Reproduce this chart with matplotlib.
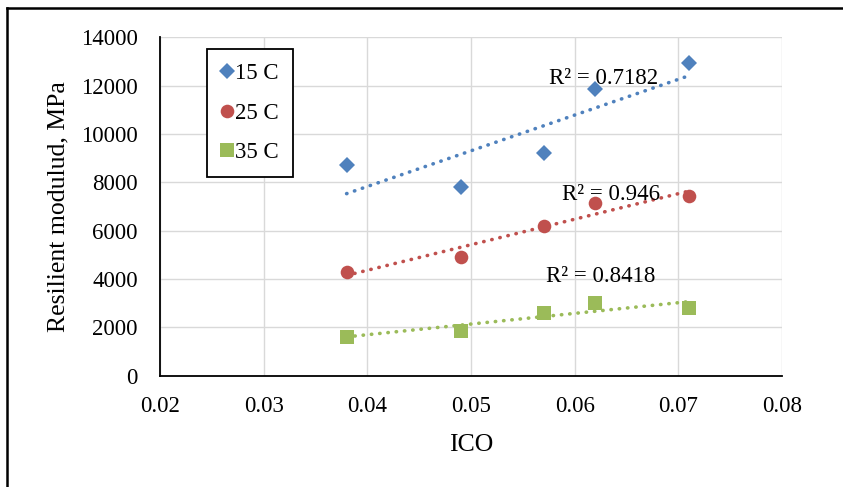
import numpy as np
import matplotlib
matplotlib.use("Agg")
import matplotlib.pyplot as plt
from matplotlib.lines import Line2D

plt.rcParams['font.family'] = ['Liberation Serif', 'DejaVu Serif']

# ---- data ----
ico = [0.038, 0.049, 0.057, 0.062, 0.071]
mr_15 = [8700, 7820, 9200, 11860, 12950]
mr_25 = [4280, 4920, 6190, 7130, 7430]
mr_35 = [1610, 1860, 2600, 2990, 2820]
series_names = ["15 C", "25 C", "35 C"]
r2_labels = ["R² = 0.7182", "R² = 0.946", "R² = 0.8418"]
r2_pos_x = [0.0575, 0.0588, 0.0572]
r2_pos_y = [12300, 7500, 4120]
x_ticks = [0.02, 0.03, 0.04, 0.05, 0.06, 0.07, 0.08]
y_ticks = [0, 2000, 4000, 6000, 8000, 10000, 12000, 14000]

colors = ["#4F81BD", "#C0504D", "#9BBB59"]
markers = ["D", "o", "s"]
msizes = [8.0, 9.8, 10.6]

W, H = 843, 487
fig = plt.figure(figsize=(W / 100, H / 100), dpi=100)
L, R, B, T = 160, 782, 375.7, 37.4
ax = fig.add_axes([L / W, 1 - B / H, (R - L) / W, (B - T) / H])

ax.set_xlim(0.02, 0.08)
ax.set_ylim(0, 14000)
ax.set_xticks(x_ticks)
ax.set_yticks(y_ticks)
ax.set_xticklabels([f"{v:.2f}" for v in x_ticks])
ax.set_yticklabels([str(v) for v in y_ticks])
ax.tick_params(length=0, labelsize=16.5)
ax.tick_params(axis='x', pad=14.5)
ax.tick_params(axis='y', pad=16)
ax.grid(True, color="#D9D9D9", linewidth=1.0, zorder=0)
ax.set_axisbelow(True)
for s in ["top", "right"]:
    ax.spines[s].set_visible(False)
for s in ["left", "bottom"]:
    ax.spines[s].set_color("black")
    ax.spines[s].set_linewidth(1.3)

xs = np.array(ico)
for ys, c, m, ms, name in zip([mr_15, mr_25, mr_35], colors, markers, msizes, series_names):
    ys = np.array(ys)
    ax.plot(xs, ys, linestyle="none", marker=m, markersize=ms, color=c,
            markeredgewidth=0, label=name, zorder=3)
    k, b0 = np.polyfit(xs, ys, 1)
    xx = np.array([xs.min(), xs.max()])
    ax.plot(xx, k * xx + b0, color=c, linewidth=2.6, linestyle=(0, (0.1, 2.2)),
            dash_capstyle="round", zorder=2)

for txt, tx, ty in zip(r2_labels, r2_pos_x, r2_pos_y):
    ax.text(tx, ty, txt, fontsize=16.5, ha="left", va="center", zorder=4)

ax.set_xlabel("ICO", fontsize=18.5)
ax.set_ylabel("Resilient modulud, MPa", fontsize=18.5)
ax.xaxis.set_label_coords(0.5, -0.172)
ax.yaxis.set_label_coords(-0.1463, 0.5)

leg = ax.legend(loc="upper left", bbox_to_anchor=(206.7 / W, 1 - 49 / H),
                bbox_transform=fig.transFigure, frameon=True, fancybox=False,
                edgecolor="black", fontsize=16.5, borderpad=0.6,
                labelspacing=0.82, handlelength=0.55, handletextpad=0.1,
                borderaxespad=0, framealpha=1)
leg.get_frame().set_linewidth(1.3)

# outer chart-area border (top and left edges)
fig.add_artist(Line2D([7 / W, 1.0], [1 - 8 / H, 1 - 8 / H], color="black",
                      linewidth=1.8, transform=fig.transFigure))
fig.add_artist(Line2D([7 / W, 7 / W], [0.0, 1 - 8 / H], color="black",
                      linewidth=1.8, transform=fig.transFigure))

fig.savefig("out.png", dpi=100)
